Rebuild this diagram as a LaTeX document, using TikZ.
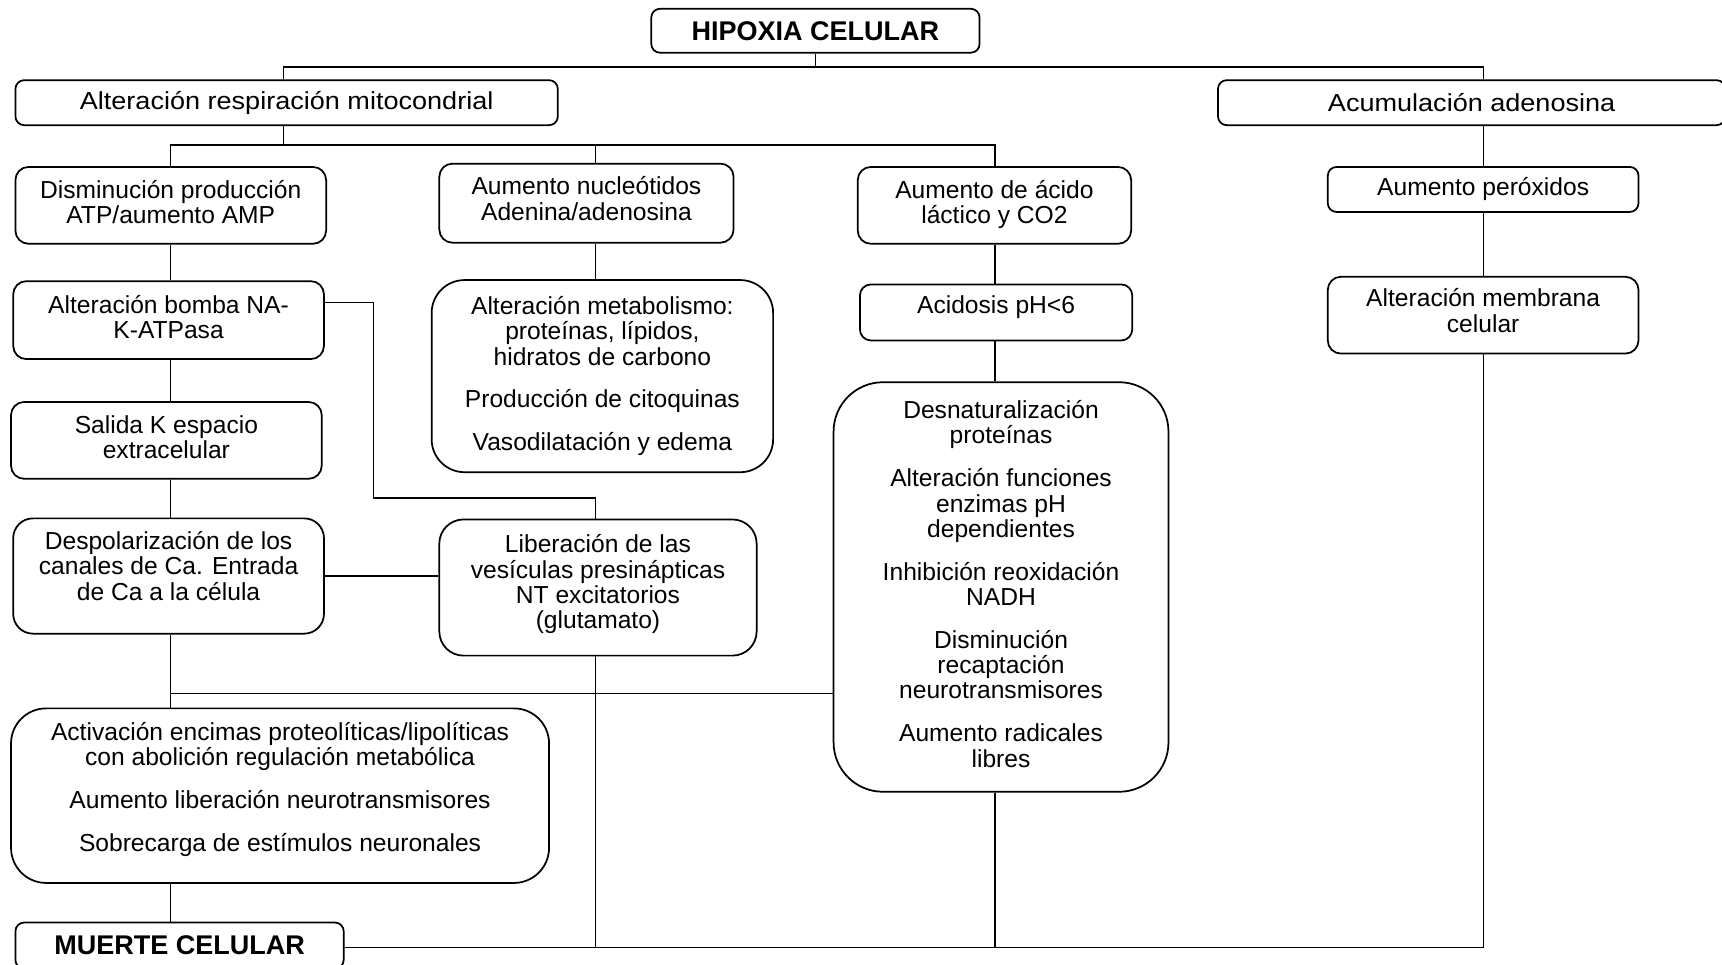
\documentclass[tikz,border=0pt]{standalone}
\usepackage{fontspec}
\setmainfont{Liberation Sans}
\usetikzlibrary{calc}
\begin{document}
\begin{tikzpicture}[x=0.02cm, y=-0.02cm,
  box/.style={draw, line width=0.9pt, rectangle, align=center, inner sep=2pt,
    font=\fontsize{12.75pt}{13.1pt}\selectfont},
  widebox/.style={box, font={\fontsize{12.75pt}{13.1pt}\selectfont\addfontfeatures{FakeStretch=1.1}}},
  titlebox/.style={box, font=\bfseries\fontsize{14pt}{15pt}\selectfont},
  lift/.style={text depth=0pt, text height=#1},
  conn/.style={draw, line width=0.7pt},
]
\useasboundingbox (0,0) rectangle (1568,878);
\def\g{0.32cm}
% boxes
\node[titlebox, rounded corners=0.16cm, minimum width=5.98cm, minimum height=0.8cm] (hip) at (742.5,28) {HIPOXIA CELULAR};
\node[widebox, rounded corners=0.16cm, minimum width=9.88cm, minimum height=0.82cm] (alt) at (261,93.5) {Alteración respiración mitocondrial};
\node[widebox, rounded corners=0.16cm, minimum width=9.24cm, minimum height=0.82cm] (acum) at (1340,93.5) {Acumulación adenosina};
\node[box, lift=18.8pt, rounded corners=0.24cm, minimum width=5.66cm, minimum height=1.4cm] (dis) at (155.5,187) {Disminución producción\\ATP/aumento AMP};
\node[box, lift=17.6pt, rounded corners=0.24cm, minimum width=5.36cm, minimum height=1.44cm] (nuc) at (534,185) {Aumento nucleótidos\\Adenina/adenosina};
\node[box, lift=18.8pt, rounded corners=0.24cm, minimum width=4.98cm, minimum height=1.4cm] (aci) at (905.5,187) {Aumento de ácido\\láctico y CO2};
\node[box, rounded corners=0.16cm, minimum width=5.66cm, minimum height=0.82cm] (per) at (1350.5,172.5) {Aumento peróxidos};
\node[box, lift=19.3pt, rounded corners=0.24cm, minimum width=5.66cm, minimum height=1.42cm] (bom) at (153.5,291.5) {Alteración bomba NA-\\K-ATPasa};
\node[box, lift=77.4pt, rounded corners=0.6cm, minimum width=6.22cm, minimum height=3.5cm] (met) at (548.5,342.5) {Alteración metabolismo:\\proteínas, lípidos,\\hidratos de carbono\\[\g]Producción de citoquinas\\[\g]Vasodilatación y edema};
\node[box, lift=1.1pt, rounded corners=0.2cm, minimum width=4.96cm, minimum height=1.02cm] (ph) at (907,284.5) {Acidosis pH<6};
\node[box, lift=17.6pt, rounded corners=0.24cm, minimum width=5.66cm, minimum height=1.4cm] (mem) at (1350.5,287) {Alteración membrana\\celular};
\node[box, lift=18.8pt, rounded corners=0.24cm, minimum width=5.66cm, minimum height=1.4cm] (sal) at (151.5,401) {Salida K espacio\\extracelular};
\node[box, lift=186.6pt, rounded corners=0.9cm, minimum width=6.1cm, minimum height=7.46cm] (des) at (911.5,534.5) {Desnaturalización\\proteínas\\[\g]Alteración funciones\\enzimas pH\\dependientes\\[\g]Inhibición reoxidación\\NADH\\[\g]Disminución\\recaptación\\neurotransmisores\\[\g]Aumento radicales\\libres};
\node[box, lift=25pt, rounded corners=0.36cm, minimum width=5.66cm, minimum height=2.1cm] (dep) at (153.5,524.5) {Despolarización de los\\canales de Ca. Entrada\\de Ca a la célula};
\node[box, lift=42.7pt, rounded corners=0.44cm, minimum width=5.78cm, minimum height=2.48cm] (lib) at (544.5,535) {Liberación de las\\vesículas presinápticas\\NT excitatorios\\(glutamato)};
\node[box, lift=58pt, rounded corners=0.64cm, minimum width=9.8cm, minimum height=3.18cm] (act) at (255,724.5) {Activación encimas proteolíticas/lipolíticas\\con abolición regulación metabólica\\[\g]Aumento liberación neurotransmisores\\[\g]Sobrecarga de estímulos neuronales};
\node[titlebox, rounded corners=0.16cm, minimum width=5.98cm, minimum height=0.84cm] (mue) at (163.5,861) {MUERTE CELULAR};
% guide coordinates
\coordinate (a0) at (258,0);
\coordinate (c1) at (155,0);
\coordinate (c2) at (542,0);
\coordinate (c3) at (906,0);
\coordinate (c4) at (1351,0);
\coordinate (r1) at (0,61);
\coordinate (r2) at (0,132);
\coordinate (r7) at (0,631.5);
\coordinate (r8) at (0,863);
\coordinate (k1) at (340,275.5);
\coordinate (k2) at (340,453.5);
% connectors
\draw[conn] (hip.south) -- (hip.south |- r1);
\draw[conn] (alt.north -| a0) |- (c4 |- r1) -- (acum.north -| c4);
\draw[conn] (alt.south -| a0) -- (a0 |- r2);
\draw[conn] (dis.north -| c1) |- (c3 |- r2) -- (aci.north -| c3);
\draw[conn] (c2 |- r2) -- (nuc.north -| c2);
\draw[conn] (acum.south -| c4) -- (per.north -| c4);
\draw[conn] (per.south -| c4) -- (mem.north -| c4);
\draw[conn] (dis.south -| c1) -- (bom.north -| c1);
\draw[conn] (bom.south -| c1) -- (sal.north -| c1);
\draw[conn] (sal.south -| c1) -- (dep.north -| c1);
\draw[conn] (bom.east |- k1) -- (k1) -- (k2) -| (lib.north -| c2);
\draw[conn] (dep.east) -- (lib.west |- dep.east);
\draw[conn] (nuc.south -| c2) -- (met.north -| c2);
\draw[conn] (aci.south -| c3) -- (ph.north -| c3);
\draw[conn] (ph.south -| c3) -- (des.north -| c3);
\draw[conn] (dep.south -| c1) -- (act.north -| c1);
\draw[conn] (c1 |- r7) -- (des.west |- r7);
\draw[conn] (act.south -| c1) -- (mue.north -| c1);
\draw[conn] (lib.south -| c2) -- (c2 |- r8);
\draw[conn] (des.south -| c3) -- (c3 |- r8);
\draw[conn] (mue.east |- r8) -- (c4 |- r8) -- (mem.south -| c4);
\end{tikzpicture}
\end{document}
